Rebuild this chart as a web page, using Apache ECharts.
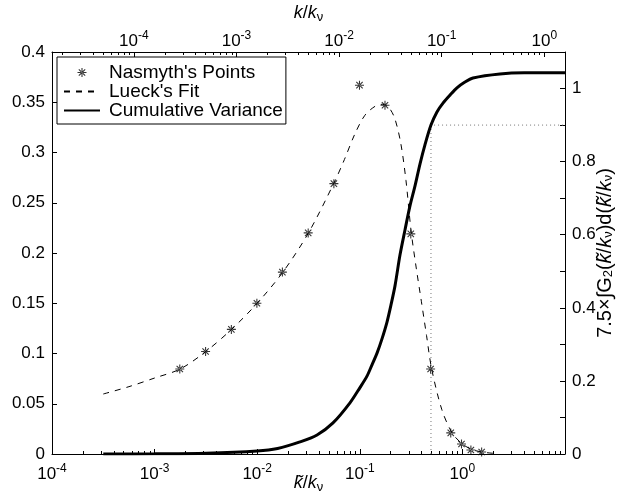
<!DOCTYPE html>
<html>
<head>
<meta charset="utf-8">
<script src="https://cdn.jsdelivr.net/npm/echarts@6/dist/echarts.min.js"></script>
<style>
  html, body { margin: 0; padding: 0; background: #fff; }
  #chart { width: 628px; height: 495px; }
</style>
</head>
<body>
<div id="chart"></div>
<script>
// Nasmyth's tabulated spectrum points (k~/k_nu, G2)
const nasmythK = [0.00176, 0.00314, 0.0056, 0.00993, 0.0176, 0.0314, 0.0559, 0.0993, 0.176, 0.314, 0.49, 0.77, 0.98, 1.21, 1.54];
const nasmythG = [0.0846, 0.102, 0.124, 0.150, 0.181, 0.220, 0.269, 0.367, 0.347, 0.219, 0.0846, 0.021, 0.0099, 0.004, 0.002];

// Lueck's fit to the spectrum
const lueckK = [3.16e-4, 5.62e-4, 1e-3, 1.78e-3, 3.16e-3, 5.62e-3, 0.01, 0.0178, 0.0316, 0.0562, 0.0708, 0.0891, 0.112, 0.141, 0.166, 0.191, 0.219, 0.251, 0.282, 0.316, 0.355, 0.398, 0.447, 0.501, 0.631, 0.794, 1.0, 1.26, 1.58, 2.0];
const lueckG = [0.0597, 0.067, 0.0756, 0.0846, 0.102, 0.124, 0.150, 0.181, 0.220, 0.270, 0.293, 0.318, 0.337, 0.346, 0.348, 0.345, 0.334, 0.309, 0.272, 0.222, 0.185, 0.152, 0.118, 0.085, 0.044, 0.021, 0.0099, 0.0042, 0.0018, 0.0007];

// Cumulative variance, 7.5 x integral of G2 (right axis)
const cumK = [3.16e-4, 1e-3, 3.16e-3, 0.01, 0.0158, 0.0261, 0.0383, 0.0548, 0.0802, 0.1, 0.1175, 0.1315, 0.1472, 0.1645, 0.1841, 0.2014, 0.2203, 0.2466, 0.2757, 0.3083, 0.3448, 0.3864, 0.4315, 0.494, 0.565, 0.647, 0.757, 0.885, 1.059, 1.268, 2.32, 4.0, 10];
const cumV = [0, 0.0005, 0.002, 0.008, 0.015, 0.033, 0.052, 0.085, 0.140, 0.181, 0.213, 0.244, 0.276, 0.315, 0.361, 0.408, 0.460, 0.545, 0.613, 0.679, 0.733, 0.794, 0.846, 0.900, 0.936, 0.960, 0.982, 1.002, 1.018, 1.029, 1.040, 1.043, 1.043];

// 90% variance guide
const guideK = [0.494, 0.494, 10];
const guideV = [0, 0.9, 0.9];

// Decade exponents that carry labels
const bottomExps = [-4, -3, -2, -1, 0];
const topExps = [-4, -3, -2, -1, 0];

const FONT = '"Liberation Sans", Arial, Helvetica, sans-serif';
const zip = (xs, ys) => xs.map((x, i) => [x, ys[i]]);

// k/k_nu = (k~/k_nu) / (2 pi): the top scale in log10 units
const SHIFT = Math.log10(2 * Math.PI);
const X_MIN = 1e-4, X_MAX = 10;
const TOP_MIN = Math.log10(X_MIN) - SHIFT, TOP_MAX = Math.log10(X_MAX) - SHIFT;

function minorLogs(lo, hi) {
  const out = [];
  for (let n = Math.floor(lo) - 1; n <= Math.ceil(hi); n++) {
    for (let m = 2; m <= 9; m++) {
      const v = n + Math.log10(m);
      if (v > lo && v < hi) out.push(v);
    }
  }
  return out;
}

const supRich = {
  b: { fontFamily: FONT, fontSize: 17, lineHeight: 20, verticalAlign: 'bottom', color: '#000' },
  s: { fontFamily: FONT, fontSize: 12, lineHeight: 6, verticalAlign: 'top', color: '#000' }
};
function subRich(size) {
  return {
    i: { fontFamily: FONT, fontSize: size, fontStyle: 'italic', lineHeight: 20, verticalAlign: 'top', color: '#000' },
    n: { fontFamily: FONT, fontSize: size, lineHeight: 20, verticalAlign: 'top', color: '#000' },
    s: { fontFamily: FONT, fontSize: 13, lineHeight: 6, verticalAlign: 'bottom', color: '#000' }
  };
}

const asterisk = 'path://M-5,-0.6L5,-0.6L5,0.6L-5,0.6Z M-0.6,-5L0.6,-5L0.6,5L-0.6,5Z M-3.96,-3.11L3.11,3.96L3.96,3.11L-3.11,-3.96Z M-3.96,3.11L3.11,-3.96L3.96,-3.11L-3.11,3.96Z';

const black = { color: '#000', width: 1 };

const option = {
  animation: false,
  backgroundColor: '#fff',
  grid: { left: 52, right: 63, top: 52, bottom: 41, containLabel: false, outerBoundsMode: 'none' },
  legend: {
    orient: 'vertical',
    left: 57, top: 57,
    itemWidth: 36, itemHeight: 9, itemGap: 0,
    padding: [6, 3, 4, 6],
    borderColor: '#000', borderWidth: 1, borderRadius: 0,
    backgroundColor: '#fff',
    textStyle: { fontFamily: FONT, fontSize: 19, color: '#000', lineHeight: 17.5, padding: [0, 0, 0, 4] },
    data: [
      "Nasmyth's Points",
      { name: "Lueck's Fit", itemStyle: { opacity: 0 } },
      { name: 'Cumulative Variance', itemStyle: { opacity: 0 } }
    ]
  },
  xAxis: [
    {
      type: 'log', logBase: 10, position: 'bottom', min: X_MIN, max: X_MAX,
      axisLine: { show: true, onZero: false, lineStyle: black },
      axisTick: { show: true, inside: true, length: 5, lineStyle: black },
      splitLine: { show: false },
      axisLabel: {
        margin: 9,
        formatter: (v) => {
          const e = Math.round(Math.log10(v));
          return bottomExps.indexOf(e) >= 0 ? '{b|10}{s|' + e + '}' : '';
        },
        rich: supRich
      },
      name: '{i|k\u0303}{n|/}{i|k}{s|\u03bd}',
      nameLocation: 'middle', nameGap: 20, nameMoveOverlap: false,
      nameTextStyle: { rich: subRich(18) }
    },
    {
      type: 'value', position: 'top', min: TOP_MIN, max: TOP_MAX,
      axisLine: { show: true, onZero: false, lineStyle: black },
      axisTick: { show: true, inside: true, length: 5, lineStyle: black, customValues: topExps },
      splitLine: { show: false },
      axisLabel: {
        margin: 2, customValues: topExps,
        formatter: (v) => '{b|10}{s|' + Math.round(v) + '}',
        rich: supRich
      },
      name: '{i|k}{n|/}{i|k}{s|\u03bd}',
      nameLocation: 'middle', nameGap: 28, nameMoveOverlap: false,
      nameTextStyle: { rich: subRich(18) }
    },
    {
      type: 'value', position: 'bottom', min: Math.log10(X_MIN), max: Math.log10(X_MAX),
      axisLine: { show: false, onZero: false },
      axisTick: { show: true, inside: true, length: 3, lineStyle: black, customValues: minorLogs(Math.log10(X_MIN), Math.log10(X_MAX)) },
      axisLabel: { show: false },
      splitLine: { show: false }
    },
    {
      type: 'value', position: 'top', min: TOP_MIN, max: TOP_MAX,
      axisLine: { show: false, onZero: false },
      axisTick: { show: true, inside: true, length: 3, lineStyle: black, customValues: minorLogs(TOP_MIN, TOP_MAX) },
      axisLabel: { show: false },
      splitLine: { show: false }
    }
  ],
  yAxis: [
    {
      type: 'value', position: 'left', min: 0, max: 0.4, interval: 0.05,
      axisLine: { show: true, onZero: false, lineStyle: black },
      axisTick: { show: true, inside: true, length: 5, lineStyle: black },
      splitLine: { show: false },
      axisLabel: { margin: 7, fontFamily: FONT, fontSize: 17, color: '#000' }
    },
    {
      type: 'value', position: 'right', min: 0, max: 1.1, interval: 0.1,
      axisLine: { show: true, onZero: false, lineStyle: black },
      axisTick: { show: true, inside: true, length: 5, lineStyle: black },
      splitLine: { show: false },
      axisLabel: {
        margin: 7, fontFamily: FONT, fontSize: 17, color: '#000',
        formatter: (v) => {
          const r = Math.round(v * 10);
          return (r % 2 === 0 && r <= 10) ? String(r / 10) : '';
        }
      },
      name: '{n|7.5\u00d7\u222bG}{s|2}{n|(}{i|k\u0303}{n|/}{i|k}{s|\u03bd}{n|)d(}{i|k\u0303}{n|/}{i|k}{s|\u03bd}{n|)}',
      nameLocation: 'middle', nameGap: 30, nameMoveOverlap: false,
      nameTextStyle: { rich: subRich(20) }
    }
  ],
  series: [
    {
      name: 'guide', type: 'line', xAxisIndex: 0, yAxisIndex: 1,
      data: zip(guideK, guideV), symbol: 'none', silent: true,
      lineStyle: { color: '#777', width: 1, type: [1, 3] }, z: 1
    },
    {
      name: "Lueck's Fit", type: 'line', xAxisIndex: 0, yAxisIndex: 0,
      data: zip(lueckK, lueckG), symbol: 'none', smooth: 0.3,
      lineStyle: { color: '#000', width: 1, type: [6, 6] },
      itemStyle: { color: '#000' }, z: 2
    },
    {
      name: 'Cumulative Variance', type: 'line', xAxisIndex: 0, yAxisIndex: 1,
      data: zip(cumK, cumV), symbol: 'none', smooth: 0.3,
      lineStyle: { color: '#000', width: 3 },
      itemStyle: { color: '#000' }, z: 3
    },
    {
      name: "Nasmyth's Points", type: 'scatter', xAxisIndex: 0, yAxisIndex: 0,
      data: zip(nasmythK, nasmythG), symbol: asterisk, symbolSize: 9, symbolKeepAspect: true,
      itemStyle: { color: '#000' }, z: 4
    }
  ]
};

const chart = echarts.init(document.getElementById('chart'), null, { renderer: 'canvas' });
chart.setOption(option);
</script>
</body>
</html>
